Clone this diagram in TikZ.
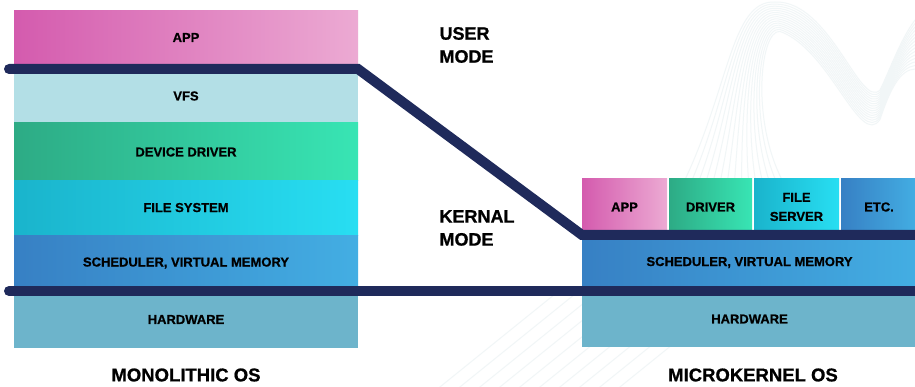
\documentclass[tikz,border=0pt]{standalone}
\usepackage{fontspec}
\setmainfont{Liberation Sans}[BoldFeatures={FakeBold=0.8}]
\definecolor{navy}{HTML}{1F2A5B}
\definecolor{appL}{HTML}{D45BAE}
\definecolor{appR}{HTML}{ECAAD3}
\definecolor{vfs}{HTML}{B3DFE6}
\definecolor{ddL}{HTML}{2DAB85}
\definecolor{ddR}{HTML}{38E5B4}
\definecolor{fsL}{HTML}{1AB4CC}
\definecolor{fsR}{HTML}{28DEF2}
\definecolor{scL}{HTML}{3780C4}
\definecolor{scR}{HTML}{43AEE3}
\definecolor{hw}{HTML}{6DB4CB}
\definecolor{wave}{HTML}{F1F6F7}
\tikzset{
  layer/.style={anchor=north west, inner sep=0pt, outer sep=0pt,
    font=\bfseries\fontsize{13}{15}\selectfont, text=black, align=center},
  gapp/.style={left color=appL, right color=appR},
  gdd/.style={left color=ddL, middle color=ddR, right color=ddR},
  gfs/.style={left color=fsL, middle color=fsR, right color=fsR},
  gsc/.style={left color=scL, middle color=scR, right color=scR},
  modeline/.style={draw=navy, line width=10pt, line cap=round, line join=miter},
  title/.style={font=\bfseries\fontsize{18.5}{22}\selectfont, text=black},
  modelabel/.style={font=\bfseries\fontsize{18}{23}\selectfont, text=black, align=left, anchor=west},
  wavestyle/.style={draw=wave, line width=1pt}
}
\begin{document}
\begin{tikzpicture}[x=1pt,y=-1pt]
\useasboundingbox[fill=white] (0,0) rectangle (915,387);
% faint background waves
\foreach \t in {0,0.07,...,1.0}{
  \draw[wavestyle] (680+110*\t,190) .. controls (730+20*\t,90+40*\t) and (730+30*\t,0+30*\t) .. (775+5*\t,2+30*\t)
        .. controls (830,0+50*\t) and (860,110+40*\t) .. (880,90+30*\t)
        .. controls (890,70+20*\t) and (900,40+30*\t) .. (915,20+50*\t);
}
\foreach \t in {0,0.1,...,1.0}{
  \draw[wavestyle] (430+200*\t,395) -- (560+200*\t,290);
}
% monolithic stack
\node[layer, gapp, minimum width=344pt, minimum height=58pt] (mapp) at (14,11) {\raisebox{5pt}{APP}};
\node[layer, fill=vfs, minimum width=344pt, minimum height=54pt] (mvfs) at (14,69) {\raisebox{-2pt}{VFS}};
\node[layer, gdd, minimum width=344pt, minimum height=58pt] (mdd) at (14,123) {DEVICE DRIVER};
\node[layer, gfs, minimum width=344pt, minimum height=55pt] (mfs) at (14,181) {\raisebox{2pt}{FILE SYSTEM}};
\node[layer, gsc, minimum width=344pt, minimum height=55pt] (msc) at (14,236) {\raisebox{3pt}{SCHEDULER, VIRTUAL MEMORY}};
\node[layer, fill=hw, minimum width=344pt, minimum height=57pt] (mhw) at (14,291) {\raisebox{-3pt}{HARDWARE}};
% microkernel stack
\node[layer, gapp, minimum width=85pt, minimum height=56pt] (kapp) at (582,179) {APP};
\node[layer, gdd, minimum width=83pt, minimum height=56pt] (kdrv) at (669,179) {DRIVER};
\node[layer, gfs, minimum width=85pt, minimum height=56pt, font=\bfseries\fontsize{13}{19}\selectfont] (kfs) at (754,179) {FILE\\SERVER};
\node[layer, gsc, minimum width=76pt, minimum height=56pt] (ketc) at (841,179) {ETC.};
\node[layer, gsc, minimum width=335pt, minimum height=56pt] (ksc) at (582,235) {\raisebox{3pt}{SCHEDULER, VIRTUAL MEMORY}};
\node[layer, fill=hw, minimum width=335pt, minimum height=56pt] (khw) at (582,291) {\raisebox{-3pt}{HARDWARE}};
% mode lines
\coordinate (u0) at (9,69);
\coordinate (u1) at (358,69);
\coordinate (u2) at (582,235);
\coordinate (u3) at (925,235);
\coordinate (k0) at (9,291);
\coordinate (k1) at (925,291);
\draw[modeline] (u0) -- (u1) -- (u2) -- (u3);
\draw[modeline] (k0) -- (k1);
% labels
\node[modelabel] (umode) at (436,45) {USER\\MODE};
\node[modelabel] (kmode) at (436,228) {KERNAL\\MODE};
\node[title] (mono) at (186,375) {MONOLITHIC OS};
\node[title] (micro) at (753,375) {MICROKERNEL OS};
\end{tikzpicture}
\end{document}
